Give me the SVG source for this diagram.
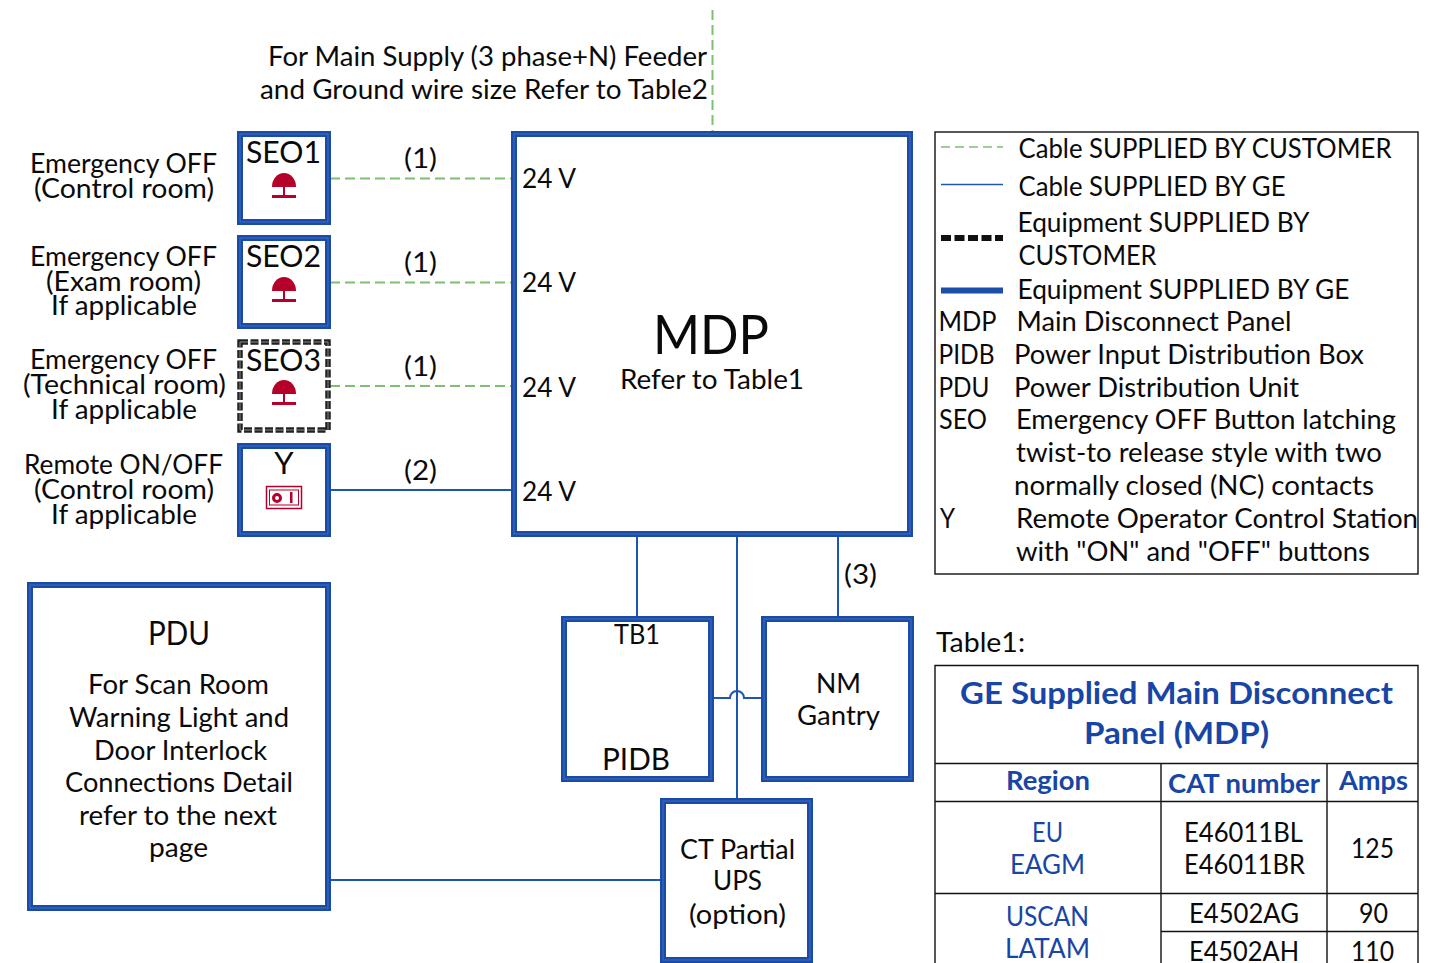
<svg xmlns="http://www.w3.org/2000/svg" width="1453" height="963" viewBox="0 0 1453 963">
<style>
text{font-family:"Lato","Carlito","Open Sans",sans-serif;font-size:27px;fill:#0a0a0a}
.sm{font-size:31px}
.ge{fill:#fff;stroke:#1a4ba6;stroke-width:6}
.gi{fill:none;stroke:#3f6fc0;stroke-width:1}
.cb{stroke:#1b57b0;stroke-width:2;fill:none}
.cg{stroke:#7cc070;stroke-width:2;fill:none;stroke-dasharray:10 5}
.k{stroke:#111;stroke-width:1.4;fill:none}
.b{fill:#1746a6}
.bb{fill:#1746a6;font-weight:700}
.r{fill:#b5002a}
</style>
<defs>
<g id="mush"><path class="r" d="M-12,0a12,14 0 0 1 24,0z"/><rect class="r" x="-1" y="0" width="2" height="10"/><rect class="r" x="-12" y="8" width="24" height="3"/></g>
</defs>
<g id="connectors">
<path class="cg" d="M712.500,10V132"/>
<path class="cg" d="M330,178.500H512M330,282.500H512M330,386H512"/>
<path class="cb" d="M330,490H512M637,536V617M737,536V799M838,536V617M330,880H662"/>
<path class="cb" d="M712,698H730a7,7 0 0 1 14,0H762"/>
</g>
<text x="268" y="65.500" textLength="439" lengthAdjust="spacingAndGlyphs">For Main Supply (3 phase+N) Feeder</text>
<text x="260" y="98.500" textLength="448" lengthAdjust="spacingAndGlyphs">and Ground wire size Refer to Table2</text>
<g id="MDP"><rect class="ge" x="514" y="134" width="396" height="400"/><rect class="gi" x="514" y="134" width="396" height="400"/>
<text x="522" y="188" textLength="54" lengthAdjust="spacingAndGlyphs">24 V</text><text x="522" y="292" textLength="54" lengthAdjust="spacingAndGlyphs">24 V</text><text x="522" y="397" textLength="54" lengthAdjust="spacingAndGlyphs">24 V</text><text x="522" y="501" textLength="54" lengthAdjust="spacingAndGlyphs">24 V</text>
<text x="653" y="354" textLength="116" lengthAdjust="spacingAndGlyphs" style="font-size:54px">MDP</text>
<text x="620" y="388.500" textLength="184" lengthAdjust="spacingAndGlyphs">Refer to Table1</text></g>
<g id="SEO1"><rect class="ge" x="240" y="134" width="88" height="88"/><rect class="gi" x="240" y="134" width="88" height="88"/><text class="sm" x="246" y="163" textLength="75" lengthAdjust="spacingAndGlyphs">SEO1</text><use href="#mush" x="284" y="187"/></g>
<g id="SEO2"><rect class="ge" x="240" y="238" width="88" height="88"/><rect class="gi" x="240" y="238" width="88" height="88"/><text class="sm" x="246" y="267" textLength="75" lengthAdjust="spacingAndGlyphs">SEO2</text><use href="#mush" x="284" y="291"/></g>
<g id="SEO3"><rect x="240" y="342" width="88" height="88" fill="#fff" stroke="#222" stroke-width="5.500" stroke-dasharray="8 2.500"/><rect x="240" y="342" width="88" height="88" fill="none" stroke="#8a8a8a" stroke-width="1" stroke-dasharray="8 2.500"/><text class="sm" x="246" y="371" textLength="75" lengthAdjust="spacingAndGlyphs">SEO3</text><use href="#mush" x="284" y="394"/></g>
<g id="Y"><rect class="ge" x="240" y="446" width="88" height="88"/><rect class="gi" x="240" y="446" width="88" height="88"/><text class="sm" x="284" y="474" text-anchor="middle">Y</text>
<rect x="266.500" y="486.500" width="35" height="22" fill="#fff" stroke="#b5002a" stroke-width="1.500"/><rect x="269.500" y="490" width="29" height="15" fill="none" stroke="#b5002a"/><circle cx="277" cy="498" r="3.500" fill="none" stroke="#b5002a" stroke-width="3"/><rect class="r" x="290" y="492" width="2.500" height="11"/></g>
<g id="labels-left">
<text x="30" y="172.500" textLength="187" lengthAdjust="spacingAndGlyphs">Emergency OFF</text><text x="34" y="198" textLength="180" lengthAdjust="spacingAndGlyphs">(Control room)</text>
<text x="30" y="265.500" textLength="187" lengthAdjust="spacingAndGlyphs">Emergency OFF</text><text x="46" y="290.500" textLength="155" lengthAdjust="spacingAndGlyphs">(Exam room)</text><text x="51" y="314.500" textLength="146" lengthAdjust="spacingAndGlyphs">If applicable</text>
<text x="30" y="368.500" textLength="187" lengthAdjust="spacingAndGlyphs">Emergency OFF</text><text x="23" y="393.500" textLength="203" lengthAdjust="spacingAndGlyphs">(Technical room)</text><text x="51" y="418.500" textLength="146" lengthAdjust="spacingAndGlyphs">If applicable</text>
<text x="24" y="473.500" textLength="199" lengthAdjust="spacingAndGlyphs">Remote ON/OFF</text><text x="34" y="498.500" textLength="180" lengthAdjust="spacingAndGlyphs">(Control room)</text><text x="51" y="523.500" textLength="146" lengthAdjust="spacingAndGlyphs">If applicable</text>
</g>
<g id="cable-labels">
<text x="404" y="168" textLength="33" lengthAdjust="spacingAndGlyphs">(1)</text><text x="404" y="272" textLength="33" lengthAdjust="spacingAndGlyphs">(1)</text><text x="404" y="376" textLength="33" lengthAdjust="spacingAndGlyphs">(1)</text><text x="404" y="480" textLength="33" lengthAdjust="spacingAndGlyphs">(2)</text><text x="844" y="584" textLength="33" lengthAdjust="spacingAndGlyphs">(3)</text>
</g>
<g id="PDU"><rect class="ge" x="30" y="585" width="298" height="323"/><rect class="gi" x="30" y="585" width="298" height="323"/>
<text x="148" y="645" textLength="62" lengthAdjust="spacingAndGlyphs" style="font-size:32px">PDU</text>
<text x="88" y="693.500" textLength="181" lengthAdjust="spacingAndGlyphs">For Scan Room</text><text x="69" y="726.500" textLength="220" lengthAdjust="spacingAndGlyphs">Warning Light and</text><text x="94" y="759.500" textLength="173" lengthAdjust="spacingAndGlyphs">Door Interlock</text><text x="65" y="791.500" textLength="228" lengthAdjust="spacingAndGlyphs">Connections Detail</text><text x="79" y="824.500" textLength="198" lengthAdjust="spacingAndGlyphs">refer to the next</text><text x="149" y="856.500" textLength="59" lengthAdjust="spacingAndGlyphs">page</text></g>
<g id="PIDB"><rect class="ge" x="564" y="619" width="147" height="160"/><rect class="gi" x="564" y="619" width="147" height="160"/><text x="614" y="643.500" textLength="46" lengthAdjust="spacingAndGlyphs">TB1</text><text class="sm" x="602" y="769.500" textLength="68" lengthAdjust="spacingAndGlyphs">PIDB</text></g>
<g id="NM"><rect class="ge" x="764" y="619" width="147" height="160"/><rect class="gi" x="764" y="619" width="147" height="160"/><text x="816" y="692.500" textLength="45" lengthAdjust="spacingAndGlyphs">NM</text><text x="797" y="724.500" textLength="83" lengthAdjust="spacingAndGlyphs">Gantry</text></g>
<g id="UPS"><rect class="ge" x="663" y="801" width="147" height="159"/><rect class="gi" x="663" y="801" width="147" height="159"/><text x="680" y="858.500" textLength="115" lengthAdjust="spacingAndGlyphs">CT Partial</text><text x="713" y="889.500" textLength="49" lengthAdjust="spacingAndGlyphs">UPS</text><text x="689" y="923.500" textLength="97" lengthAdjust="spacingAndGlyphs">(option)</text></g>
<g id="legend"><rect class="k" x="935" y="132" width="483" height="442"/>
<path d="M941,147H1003" stroke="#7cc070" stroke-width="1.500" stroke-dasharray="9 5"/><path d="M941,184.500H1003" stroke="#1b57b0" stroke-width="1.500"/><path d="M941,238H1003" stroke="#111" stroke-width="6" stroke-dasharray="10 3.500"/><path d="M941,290.500H1003" stroke="#1b4fa8" stroke-width="6"/>
<text x="1018.500" y="157.500" textLength="373" lengthAdjust="spacingAndGlyphs">Cable SUPPLIED BY CUSTOMER</text>
<text x="1018.500" y="195.500" textLength="267" lengthAdjust="spacingAndGlyphs">Cable SUPPLIED BY GE</text>
<text x="1017.500" y="231.500" textLength="292" lengthAdjust="spacingAndGlyphs">Equipment SUPPLIED BY</text>
<text x="1018.500" y="264.500" textLength="138" lengthAdjust="spacingAndGlyphs">CUSTOMER</text>
<text x="1017.500" y="298.500" textLength="332" lengthAdjust="spacingAndGlyphs">Equipment SUPPLIED BY GE</text>
<text x="938.500" y="330.500" textLength="58" lengthAdjust="spacingAndGlyphs">MDP</text><text x="1016.500" y="330.500" textLength="275" lengthAdjust="spacingAndGlyphs">Main Disconnect Panel</text>
<text x="938.500" y="363.500" textLength="56" lengthAdjust="spacingAndGlyphs">PIDB</text><text x="1014" y="363.500" textLength="350" lengthAdjust="spacingAndGlyphs">Power Input Distribution Box</text>
<text x="938.500" y="396.500" textLength="51" lengthAdjust="spacingAndGlyphs">PDU</text><text x="1014" y="396.500" textLength="285" lengthAdjust="spacingAndGlyphs">Power Distribution Unit</text>
<text x="939" y="428.500" textLength="48" lengthAdjust="spacingAndGlyphs">SEO</text><text x="1016" y="428.500" textLength="380" lengthAdjust="spacingAndGlyphs">Emergency OFF Button latching</text>
<text x="1016" y="461.500" textLength="366" lengthAdjust="spacingAndGlyphs">twist-to release style with two</text>
<text x="1014" y="494.500" textLength="360" lengthAdjust="spacingAndGlyphs">normally closed (NC) contacts</text>
<text x="940" y="527.500" textLength="15" lengthAdjust="spacingAndGlyphs">Y</text><text x="1016" y="527.500" textLength="402" lengthAdjust="spacingAndGlyphs">Remote Operator Control Station</text>
<text x="1016" y="560.500" textLength="354" lengthAdjust="spacingAndGlyphs">with "ON" and "OFF" buttons</text>
</g>
<g id="table">
<text x="936" y="651.500" textLength="89" lengthAdjust="spacingAndGlyphs">Table1:</text>
<path class="k" d="M935,963V665.500H1418V963M935,763.500H1418M935,801.500H1418M935,893.500H1418M1161,763.500V963M1327,763.500V963M1161,931.500H1418"/>
<text class="bb" x="960" y="704" textLength="433" lengthAdjust="spacingAndGlyphs" style="font-size:31px">GE Supplied Main Disconnect</text>
<text class="bb" x="1084" y="744" textLength="185" lengthAdjust="spacingAndGlyphs" style="font-size:31px">Panel (MDP)</text>
<text class="bb" x="1006" y="790" textLength="84" lengthAdjust="spacingAndGlyphs">Region</text>
<text class="bb" x="1168" y="793" textLength="152" lengthAdjust="spacingAndGlyphs">CAT number</text>
<text class="bb" x="1339" y="790" textLength="69" lengthAdjust="spacingAndGlyphs">Amps</text>
<text class="b" x="1032" y="841.500" textLength="31" lengthAdjust="spacingAndGlyphs">EU</text>
<text class="b" x="1010" y="873.500" textLength="75" lengthAdjust="spacingAndGlyphs">EAGM</text>
<text x="1184" y="841.500" textLength="119" lengthAdjust="spacingAndGlyphs">E46011BL</text>
<text x="1184" y="873.500" textLength="121" lengthAdjust="spacingAndGlyphs">E46011BR</text>
<text x="1351" y="857.500" textLength="43" lengthAdjust="spacingAndGlyphs">125</text>
<text class="b" x="1006" y="925.500" textLength="83" lengthAdjust="spacingAndGlyphs">USCAN</text>
<text class="b" x="1005" y="957.500" textLength="85" lengthAdjust="spacingAndGlyphs">LATAM</text>
<text x="1189" y="922.500" textLength="110" lengthAdjust="spacingAndGlyphs">E4502AG</text>
<text x="1359" y="922.500" textLength="29" lengthAdjust="spacingAndGlyphs">90</text>
<text x="1189" y="960.500" textLength="110" lengthAdjust="spacingAndGlyphs">E4502AH</text>
<text x="1351" y="960.500" textLength="43" lengthAdjust="spacingAndGlyphs">110</text>
</g>
</svg>
